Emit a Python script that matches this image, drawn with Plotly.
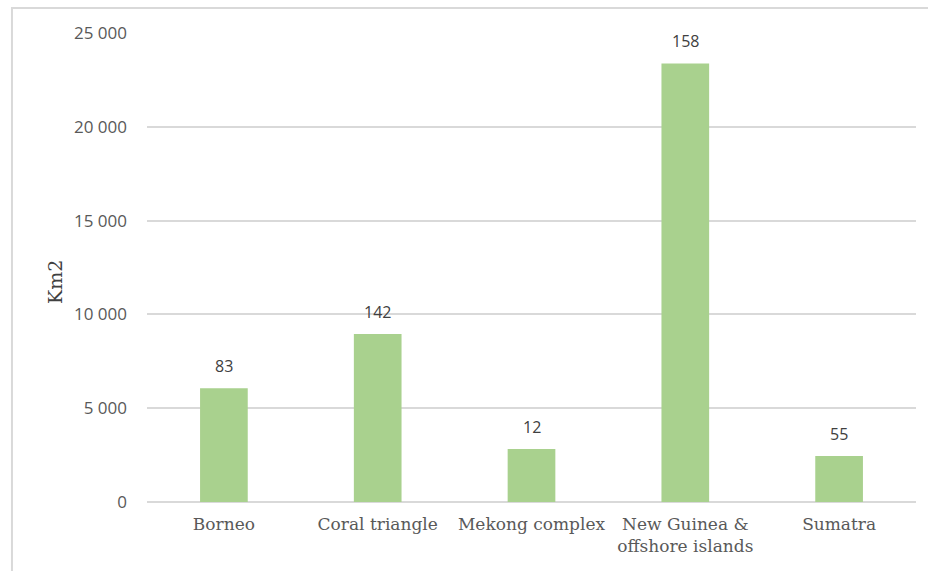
import plotly.graph_objects as go

# Area (km2) per region, with the count shown above each bar
regions = ["Borneo", "Coral triangle", "Mekong complex",
           "New Guinea &<br>offshore islands", "Sumatra"]
area_km2 = [6070, 8950, 2820, 23380, 2450]
counts = [83, 142, 12, 158, 55]
y_ticks = [0, 5000, 10000, 15000, 20000, 25000]

fig = go.Figure()
fig.add_trace(go.Bar(
    x=regions, y=area_km2,
    marker=dict(color="#a9d18e", line=dict(width=0)),
    width=0.31,
    hoverinfo="skip",
))

# count labels sit a little above each bar
for r, v, c in zip(regions, area_km2, counts):
    fig.add_annotation(
        x=r, y=v, text=str(c), showarrow=False,
        yanchor="bottom", yshift=9,
        font=dict(family="Open Sans", size=16, color="#404040"),
    )

# axis title
fig.add_annotation(
    xref="paper", yref="paper", x=-0.1196, y=0.469,
    xanchor="center", yanchor="middle",
    text="Km2", textangle=-90, showarrow=False,
    font=dict(family="DejaVu Serif", size=19, color="#404040"),
)

# outer frame
fig.add_shape(type="rect", xref="paper", yref="paper",
              x0=-0.1756, y0=-0.4, x1=1.2, y1=1.0533,
              line=dict(color="#d9d9d9", width=2), layer="below")

fig.update_layout(
    width=928, height=571,
    margin=dict(l=147, r=12, t=33, b=69),
    paper_bgcolor="white", plot_bgcolor="white",
    separators=". ",
    showlegend=False,
    bargap=0.69,
    xaxis=dict(
        showgrid=False, showline=False, ticks="", ticklabelstandoff=10,
        tickfont=dict(family="DejaVu Serif", size=17, color="#595959"),
    ),
    yaxis=dict(
        range=[0, 25000], tickvals=y_ticks, tickformat=",d",
        showgrid=True, gridcolor="#d9d9d9", gridwidth=1.5,
        zeroline=True, zerolinecolor="#d9d9d9", zerolinewidth=1.5,
        showline=False, ticks="", ticklabelstandoff=19,
        tickfont=dict(family="Open Sans", size=17, color="#595959"),
    ),
)

fig.write_html("out.html")
